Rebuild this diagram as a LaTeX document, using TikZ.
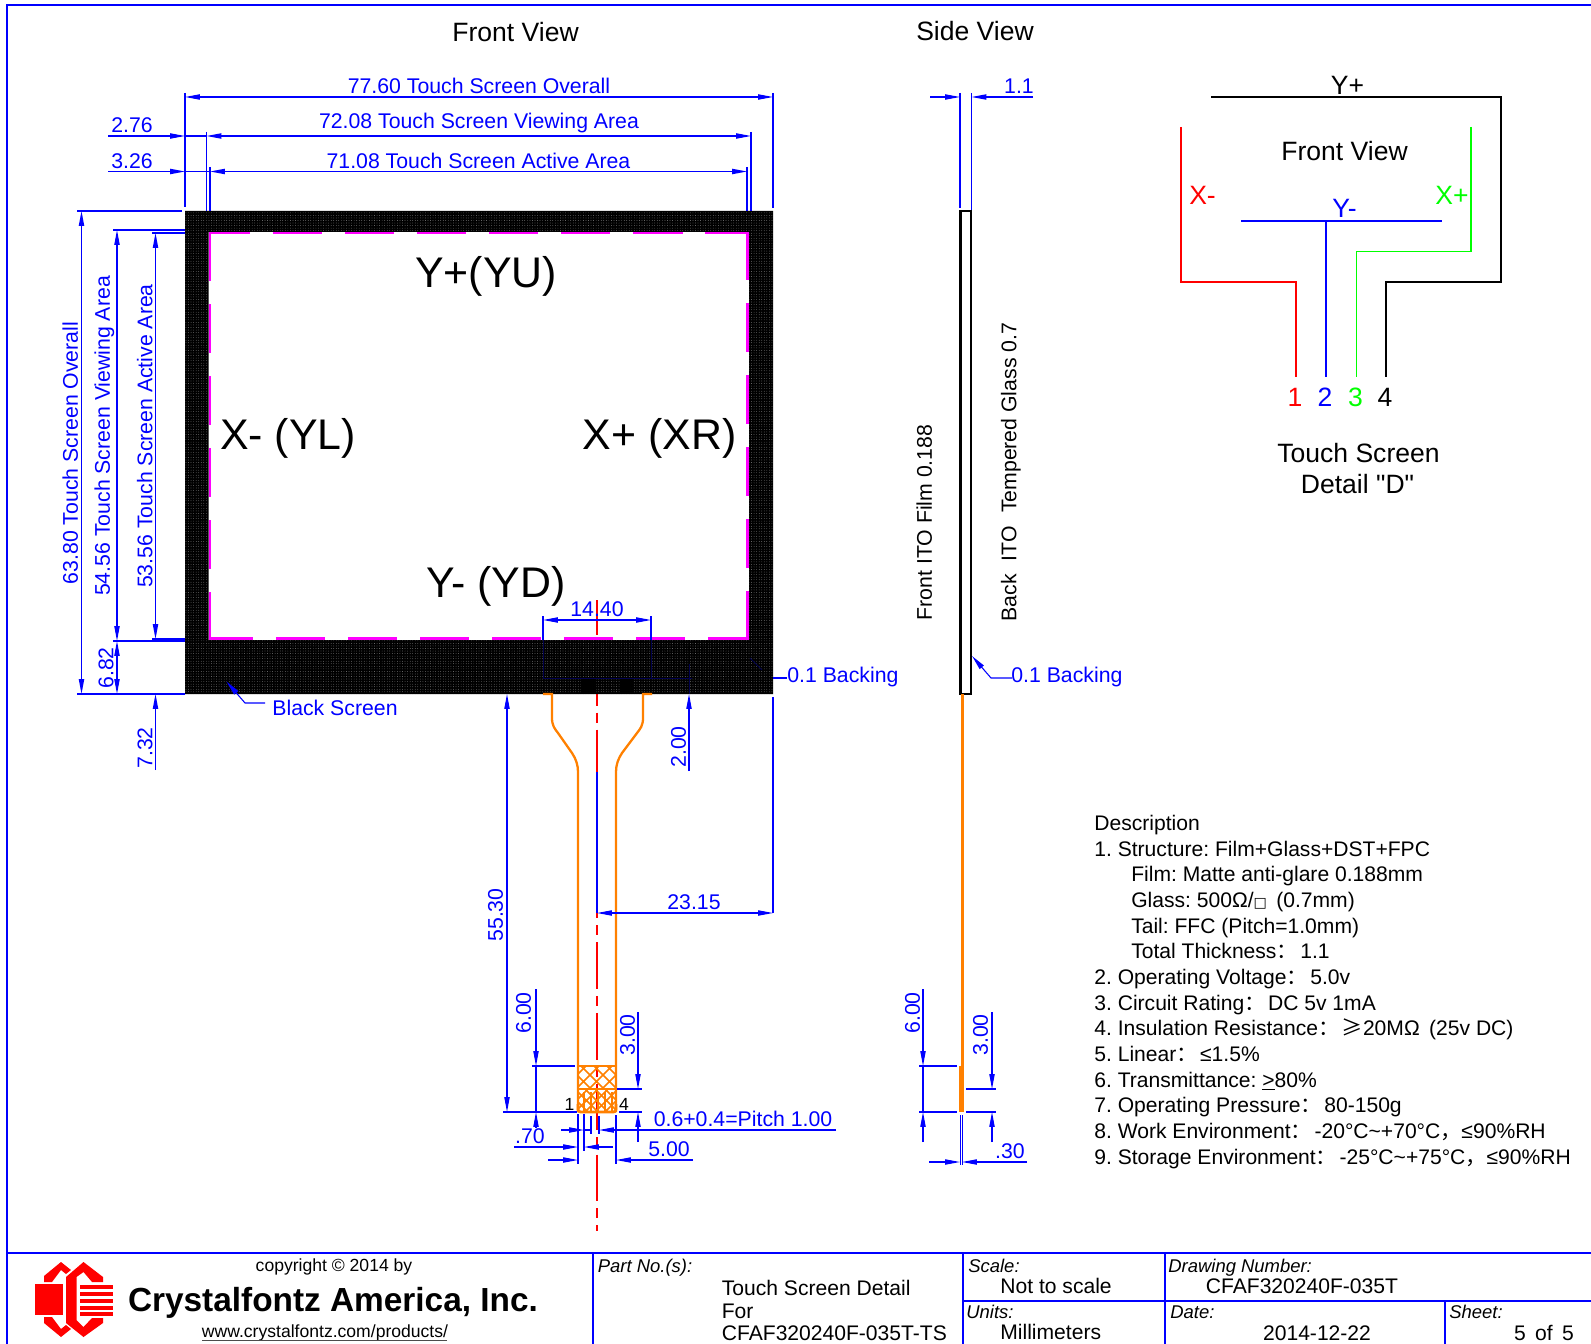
\documentclass[tikz,border=0pt]{standalone}
\usepackage{fontspec}
\usepackage{xcolor}
\usepackage{tikz}
\usetikzlibrary{arrows.meta,patterns.meta}
\setmainfont{Liberation Sans}[Ligatures=TeXOff]
\newfontfamily\cjk{Noto Sans CJK SC}
\newfontfamily\dejavu{DejaVu Sans}
\definecolor{fpcorange}{HTML}{FF8000}
\definecolor{dimblue}{HTML}{0000FF}
\definecolor{wiregreen}{HTML}{00FF00}
\definecolor{logored}{HTML}{FF0000}
\definecolor{activemag}{HTML}{FF00FF}
\newcommand{\wcolon}{{\cjk ：}\kern1.5pt}
\newcommand{\wcomma}{{\cjk ，}}

\begin{document}
\frenchspacing
\begin{tikzpicture}[
  x=0.02cm, y=-0.02cm,
  >={Stealth[inset=0pt,length=8.5pt,width=3pt]},
  dim/.style={draw=dimblue, line width=0.6pt},
  frameline/.style={draw=dimblue, line width=1pt},
  fpc/.style={draw=fpcorange, line width=1.3pt},
  hatch/.style={draw=fpcorange, line width=0.9pt},
  magline/.style={draw=activemag, line width=1.4pt, dash pattern=on 28pt off 13pt},
  wire/.style={line width=0.8pt},
  dimtext/.style={text=dimblue, inner sep=0pt, font=\fontsize{12.1}{14}\selectfont, text height=10.2pt, text depth=1.2pt},
  tag/.style={inner sep=0pt, font=\fontsize{15.1}{18}\selectfont, text height=12.6pt, text depth=2pt},
  big/.style={inner sep=0pt, font=\fontsize{24.4}{28}\selectfont},
  plaintext/.style={inner sep=0pt, font=\fontsize{12}{14}\selectfont, text height=9pt, text depth=0pt, anchor=west},
  captext/.style={inner sep=0pt, font=\fontsize{10.5}{12}\selectfont\itshape, text height=10pt, text depth=1.2pt, anchor=west}
]
  \useasboundingbox (0,0) rectangle (1591,1344);

  % sheet frame
  \draw[frameline] (1591,5) -- (7,5) -- (7,1344);
  \draw[frameline] (7,1253) -- (1591,1253);
  \draw[frameline] (593,1253) -- (593,1344);
  \draw[frameline] (963,1253) -- (963,1344);
  \draw[frameline] (1165,1253) -- (1165,1344);
  \draw[frameline] (963,1301) -- (1591,1301);
  \draw[frameline] (1445,1301) -- (1445,1344);

  \node[tag] (frontview) at (515.5,32) {Front View};
  \node[tag] (sideview) at (975,31) {Side View};

  % center line goes under the screen
  \draw[draw=red, line width=1.1pt, dash pattern=on 26.6pt off 4pt on 5.7pt off 4pt, dash phase=6.8pt] (597,600) -- (597,1231);

  % black screen
  \path[fill=black, even odd rule] (185,211) rectangle (773,694) (208.5,232) rectangle (749,640);
  \path[pattern={Dots[distance=1.45pt,radius=0.2pt]}, pattern color=gray!75, even odd rule] (185,211) rectangle (773,694) (208.5,232) rectangle (749,640);
  \fill[black] (581,678) rectangle (596,694);
  \fill[black] (620,678) rectangle (634,694);
  \draw[magline, dash phase=4.5pt] (209,233) -- (749,233);
  \draw[magline] (210,232) -- (210,640);
  \draw[magline, dash phase=4.5pt] (749,638.5) -- (209,638.5);
  \draw[magline] (747.5,640) -- (747.5,232);
  % dim lines hidden in the black
  \draw[draw=blue!30!black, line width=0.5pt] (543,640) -- (543,678) -- (692,678);
  \draw[draw=blue!30!black, line width=0.5pt] (651,640) -- (651,678);
  \draw[draw=blue!30!black, line width=0.5pt] (689,664) -- (689,694);
  \draw[draw=blue!30!black, line width=0.5pt] (750,658) -- (762,670);

  \node[big] (yu) at (486,276) {Y+(YU)};
  \node[big] (yl) at (288,438) {X- (YL)};
  \node[big] (xr) at (659.5,438) {X+ (XR)};
  \node[big] (yd) at (496,586) {Y- (YD)};

  % top dimensions
  \draw[dim] (185,93) -- (185,207);
  \draw[dim] (773,93) -- (773,208);
  \draw[dim,<->] (185,97) -- (773,97);
  \node[dimtext] (overall) at (479,86) {77.60 Touch Screen Overall};
  \draw[dim] (206.5,132) -- (206.5,211);
  \draw[dim] (751,132) -- (751,211);
  \draw[dim,->] (108,136) -- (185,136);
  \draw[dim] (185,136) -- (206.5,136);
  \draw[dim,<->] (206.5,136) -- (751,136);
  \node[dimtext] (viewing) at (479,121) {72.08 Touch Screen Viewing Area};
  \node[dimtext] (ltwo) at (132,125) {2.76};
  \draw[dim] (210,167) -- (210,211);
  \draw[dim] (747,167) -- (747,211);
  \draw[dim,->] (108,171.5) -- (185,171.5);
  \draw[dim] (185,171.5) -- (210,171.5);
  \draw[dim,<->] (210,171.5) -- (747,171.5);
  \node[dimtext] (active) at (478.5,161) {71.08 Touch Screen Active Area};
  \node[dimtext] (lthree) at (132,160.5) {3.26};

  % left dimensions
  \draw[dim] (77,211) -- (182,211);
  \draw[dim] (77,694) -- (185,694);
  \draw[dim,<->] (81.5,211) -- (81.5,694);
  \node[dimtext, rotate=90] (overallv) at (70,453) {63.80 Touch Screen Overall};
  \draw[dim] (113,230) -- (185,230);
  \draw[dim] (113,641) -- (185,641);
  \draw[dim,<->] (117,230) -- (117,641);
  \draw[dim,<->] (117,641) -- (117,694);
  \node[dimtext, rotate=90] (viewingv) at (102,436) {54.56 Touch Screen Viewing Area};
  \node[dimtext, rotate=90] (lsix) at (105.5,668) {6.82};
  \draw[dim] (152,233) -- (185,233);
  \draw[dim] (152,639) -- (185,639);
  \draw[dim,<->] (155.5,233) -- (155.5,639);
  \draw[dim,->] (155.5,770) -- (155.5,694);
  \node[dimtext, rotate=90] (activev) at (144.5,436) {53.56 Touch Screen Active Area};
  \node[dimtext, rotate=90] (lseven) at (144.5,748) {7.32};

  % 14.40 dimension
  \draw[dim] (543,616) -- (543,640);
  \draw[dim] (651,616) -- (651,640);
  \draw[dim,<->] (543,620) -- (651,620);
  \node[dimtext] (pitchw) at (597,609) {14.40};

  % leaders
  \draw[dim] (773,678) -- (787,678);
  \node[dimtext, anchor=west] (backf) at (787,675) {0.1 Backing};
  \coordinate (blacktip) at (226.5,681.5);
  \coordinate (blackknee) at (245,703);
  \draw[dim,<-] (blacktip) -- (blackknee) -- (265,703);
  \node[dimtext, anchor=west] (blackscr) at (272,708) {Black Screen};

  % tail, front view
  \draw[fpc] (543,694) -- (552,694) -- (552,718) .. controls (552,726) and (555,729) .. (558,733) -- (572,753) .. controls (576,759) and (578,765) .. (578,772) -- (578,1112);
  \draw[fpc] (652,694) -- (643,694) -- (643,718) .. controls (643,726) and (640,729) .. (637,733) -- (622,753) .. controls (618,759) and (616,765) .. (616,772) -- (616,1112);
  \begin{scope}
    \clip (578,1066) rectangle (616,1089);
    \foreach \a in {0,13,...,78}
      \draw[hatch] (578+\a-36,1066) -- (578+\a-13,1089)
                   (578+\a-5,1066) -- (578+\a-28,1089);
  \end{scope}
  \begin{scope}
    \clip (578,1089) rectangle (616,1112);
    \foreach \a in {0,10,...,70}
      \draw[hatch] (578+\a-23,1089) -- (578+\a,1112)
                   (578+\a,1089) -- (578+\a-23,1112);
    \foreach \a in {6,13,...,34}
      \draw[hatch] (578+\a,1092) -- (578+\a,1112);
  \end{scope}
  \draw[fpc] (578,1066) -- (616,1066);
  \draw[fpc] (578,1089) -- (616,1089);
  \draw[fpc, line width=1.6pt, rounded corners=1.5pt] (578,1104) -- (578,1112) -- (616,1112) -- (616,1104);
  \node[inner sep=0pt, font=\fontsize{10}{11}\selectfont] (pinone) at (569.5,1104) {1};
  \node[inner sep=0pt, font=\fontsize{10}{11}\selectfont] (pinfour) at (624,1104) {4};

  % dimensions below the screen
  \draw[dim,<->] (507,694) -- (507,1112);
  \node[dimtext, rotate=90] (taillen) at (495,915) {55.30};
  \draw[dim] (503,1112) -- (577,1112);
  \draw[dim,->] (689,771) -- (689,694);
  \node[dimtext, rotate=90] (twoo) at (678,747) {2.00};
  \draw[dim] (773,697) -- (773,913);
  \draw[dim] (597,772) -- (597,913);
  \draw[dim,<->] (597,913) -- (773,913);
  \node[dimtext] (centerw) at (694,902) {23.15};

  \draw[dim] (532,1066) -- (575,1066);
  \draw[dim,->] (536,989) -- (536,1066);
  \draw[dim] (536,1066) -- (536,1112);
  \draw[dim,->] (536,1128) -- (536,1112);
  \node[dimtext, rotate=90] (sixf) at (523,1013) {6.00};
  \draw[dim] (617,1089) -- (642,1089);
  \draw[dim] (619,1112) -- (642,1112);
  \draw[dim,->] (638,1012) -- (638,1089);
  \draw[dim,->] (638,1142) -- (638,1112);
  \node[dimtext, rotate=90] (threef) at (627,1035) {3.00};

  \draw[dim] (578,1114) -- (578,1164);
  \draw[dim] (584,1114) -- (584,1151);
  \draw[dim] (591,1116) -- (591,1134);
  \draw[dim] (599,1116) -- (599,1134);
  \draw[dim] (616,1115) -- (616,1164);
  \draw[dim,->] (561,1130) -- (584,1130);
  \draw[dim] (584,1130) -- (591,1130);
  \draw[dim,->] (836,1130) -- (599,1130);
  \node[dimtext] (pitch) at (743,1119) {0.6+0.4=Pitch 1.00};
  \draw[dim,->] (514,1147) -- (578,1147);
  \draw[dim,->] (613,1147) -- (584,1147);
  \node[dimtext] (seventy) at (530,1136) {.70};
  \draw[dim,->] (548,1160) -- (578,1160);
  \draw[dim,->] (693,1160) -- (616,1160);
  \node[dimtext] (fivew) at (669,1149) {5.00};

  % side view
  \draw[dim] (960,93) -- (960,208);
  \draw[dim] (971.5,93) -- (971.5,210);
  \draw[dim,->] (930,97) -- (960,97);
  \draw[dim,->] (1033,97) -- (971.5,97);
  \node[dimtext] (thick) at (1019,86) {1.1};
  \draw[line width=0.8pt] (960,211) rectangle (971,694);
  \draw[line width=1.5pt] (961,211) -- (961,694);
  \node[dimtext, rotate=90, text=black] (filmlbl) at (924,522.5) {Front ITO Film 0.188};
  \node[dimtext, rotate=90, text=black] (glasslbl) at (1008.5,472) {Back\,\, ITO\,\, Tempered Glass 0.7};
  \coordinate (backtip) at (972,656);
  \coordinate (backknee) at (991,678);
  \draw[dim,<-] (backtip) -- (backknee) -- (1012,678);
  \node[dimtext, anchor=west] (backs) at (1011,675) {0.1 Backing};
  \draw[fpc, line width=1.7pt] (962,694) -- (962,1066);
  \fill[fpcorange] (959,1066) rectangle (964,1112);
  \draw[dim, line width=0.35pt] (960,1115) -- (960,1165);
  \draw[dim, line width=0.35pt] (962,1115) -- (962,1165);
  \draw[dim,->] (929,1162) -- (960,1162);
  \draw[dim,->] (1027,1162) -- (962,1162);
  \node[dimtext] (thin) at (1010,1151) {.30};
  \draw[dim] (919,1066) -- (957,1066);
  \draw[dim] (919,1112) -- (957,1112);
  \draw[dim,->] (923,989) -- (923,1066);
  \draw[dim] (923,1066) -- (923,1112);
  \draw[dim,->] (923,1142) -- (923,1112);
  \node[dimtext, rotate=90] (sixs) at (912,1013) {6.00};
  \draw[dim] (966,1089) -- (996,1089);
  \draw[dim] (966,1112) -- (996,1112);
  \draw[dim,->] (992,1012) -- (992,1089);
  \draw[dim,->] (992,1142) -- (992,1112);
  \node[dimtext, rotate=90] (threes) at (980,1035) {3.00};

  % detail D
  \coordinate (pin1) at (1296,377.5);
  \coordinate (pin2) at (1326,377.5);
  \coordinate (pin3) at (1356.5,377.5);
  \coordinate (pin4) at (1386,377.5);
  \draw[wire, draw=black] (1211,97) -- (1501,97) -- (1501,282) -- (1386,282) -- (pin4);
  \draw[wire, draw=red] (1181,127) -- (1181,282) -- (1296,282) -- (pin1);
  \draw[wire, draw=wiregreen] (1471,127) -- (1471,251.5) -- (1356.5,251.5) -- (pin3);
  \draw[wire, draw=dimblue] (1241,221) -- (1442,221);
  \draw[wire, draw=dimblue] (1326,221) -- (pin2);
  \node[tag] (yplus) at (1347.5,85) {Y+};
  \node[tag] (frontd) at (1344.5,151) {Front View};
  \node[tag, text=red] (xminus) at (1202.5,195) {X-};
  \node[tag, text=wiregreen] (xplus) at (1452,195) {X+};
  \node[tag, text=dimblue] (yminus) at (1344.5,208) {Y-};
  \node[tag, text=red] (n1) at (1295,397) {1};
  \node[tag, text=dimblue] (n2) at (1325,397) {2};
  \node[tag, text=wiregreen] (n3) at (1355.5,397) {3};
  \node[tag] (n4) at (1385,397) {4};
  \node[tag] (tsa) at (1358.5,453) {Touch Screen};
  \node[tag] (tsb) at (1357.5,484) {Detail "D"};

  % description
  \node[inner sep=0pt, anchor=north west, align=left, font=\fontsize{12}{14.6}\selectfont] (desc) at (1094,815) {%
    Description\\
    1. Structure: Film+Glass+DST+FPC\\
    \hspace*{21pt}Film: Matte anti-glare 0.188mm\\
    \hspace*{21pt}Glass: 500Ω/{\dejavu\fontsize{8}{9}\selectfont □}\ \,(0.7mm)\\
    \hspace*{21pt}Tail: FFC (Pitch=1.0mm)\\
    \hspace*{21pt}Total Thickness\wcolon 1.1\\
    2. Operating Voltage\wcolon 5.0v\\
    3. Circuit Rating\wcolon DC 5v 1mA\\
    4. Insulation Resistance\wcolon {\cjk ≥}20MΩ\ \,(25v DC)\\
    5. Linear\wcolon ≤1.5\%\\
    6. Transmittance: \underline{>}80\%\\
    7. Operating Pressure\wcolon 80-150g\\
    8. Work Environment\wcolon -20°C\textasciitilde+70°C\wcomma ≤90\%RH\\
    9. Storage Environment\wcolon -25°C\textasciitilde+75°C\wcomma ≤90\%RH};

  % logo
  \fill[logored] (34.5,1284) rectangle (63,1315);
  \fill[logored] (44,1282) -- (44,1276) -- (61,1262) -- (71,1270) -- (66,1274) -- (61,1270) -- (52,1282) -- cycle;
  \fill[logored] (44,1317) -- (44,1323) -- (61,1337) -- (71,1329) -- (66,1325) -- (61,1329) -- (52,1317) -- cycle;
  \fill[logored] (66,1277) -- (83.5,1262) -- (103,1277) -- (103,1282) -- (92,1282) -- (83.5,1272) -- (76.5,1277) -- (76.5,1320) -- (83.5,1327) -- (92,1318) -- (103,1318) -- (103,1323) -- (83.5,1337) -- (66,1323) -- cycle;
  \foreach \y in {1284.5,1291.5,1298.5,1305.5,1312} 
    \fill[logored] (79.6,\y) rectangle (113,\y+4.2);

  \node[inner sep=0pt, font=\fontsize{10}{12}\selectfont] (copy) at (334,1267) {copyright © 2014 by};
  \node[inner sep=0pt, font=\fontsize{19}{22}\selectfont\bfseries] (company) at (333,1303) {Crystalfontz America, Inc.};
  \node[inner sep=0pt, font=\fontsize{10}{12}\selectfont] (url) at (325,1332.5) {www.crystalfontz.com/products/};
  \draw[draw=black!70, line width=0.6pt] (202,1340.5) -- (447,1340.5);

  % title block
  \node[captext] (partlbl) at (597.5,1265) {Part No.(s):};
  \node[plaintext] (parta) at (721.5,1287.5) {Touch Screen Detail};
  \node[plaintext] (partb) at (721.5,1310.5) {For};
  \node[plaintext] (partc) at (721.5,1332.5) {CFAF320240F-035T-TS};
  \node[captext] (scalelbl) at (968,1265) {Scale:};
  \node[plaintext] (scaleval) at (1000,1286) {Not to scale};
  \node[captext] (unitslbl) at (966,1311) {Units:};
  \node[plaintext] (unitsval) at (1000,1332) {Millimeters};
  \node[captext] (drawlbl) at (1168,1265) {Drawing Number:};
  \node[plaintext] (drawval) at (1205.5,1286) {CFAF320240F-035T};
  \node[captext] (datelbl) at (1170,1311) {Date:};
  \node[plaintext, anchor=center] (dateval) at (1317,1333) {2014-12-22};
  \node[captext] (sheetlbl) at (1449,1311) {Sheet:};
  \node[plaintext, anchor=center] (sheetval) at (1544,1333) {5\,\ of\,\ 5};
\end{tikzpicture}
\end{document}
